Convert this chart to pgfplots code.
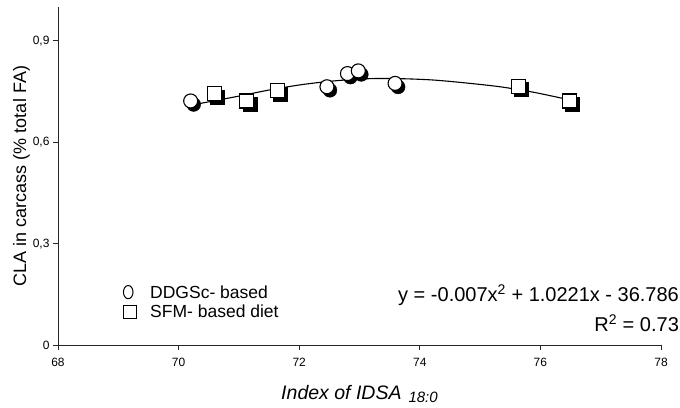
\documentclass[border=0pt]{standalone}
\usepackage{pgfplots}
\pgfplotsset{compat=1.18}
\usepackage{fontspec}
\setmainfont{Liberation Sans}

\pgfplotstableread{
x y
70.20 0.722
72.46 0.764
72.80 0.803
72.98 0.811
73.59 0.774
}\ddgs
\pgfplotstableread{
x y
70.59 0.744
71.13 0.722
71.64 0.752
75.63 0.766
76.48 0.722
}\sfm
\pgfplotstableread{
x y
70.22 0.710
70.96 0.735
71.52 0.755
72.07 0.771
72.62 0.782
73.17 0.788
73.67 0.788
74.22 0.784
74.78 0.775
75.33 0.764
75.88 0.748
76.49 0.725
}\fit

\begin{document}
\begin{tikzpicture}
\begin{axis}[
  name=ax,
  scale only axis,
  width=603pt, height=338pt,
  xmin=68, xmax=78, ymin=0, ymax=1,
  axis lines=left,
  axis line style={-, line width=0.8pt, black!85},
  xtick={68,70,72,74,76,78},
  ytick={0,0.3,0.6,0.9},
  yticklabels={0,{0,3},{0,6},{0,9}},
  tick align=outside,
  major tick length=5pt,
  tick style={line width=0.8pt, black!85},
  /pgf/number format/assume math mode=true,
  tick label style={font=\fontsize{12}{14}\selectfont},
  xticklabel style={yshift=-5pt},
  xlabel={\fontsize{19.5}{22}\selectfont\itshape Index of IDSA\hspace{7pt}\raisebox{-3pt}{\fontsize{15}{17}\selectfont 18:0}},
  xlabel style={at={(axis description cs:0.5,-0.145)}, anchor=center},
  ylabel={\fontsize{18}{20}\selectfont CLA in carcass (\% total FA)},
  ylabel style={at={(axis description cs:-0.0605,0.5)}, anchor=center, rotate=0},
  legend style={at={(axis cs:69.07,0.1276)}, anchor=west, draw=none, fill=none,
    font=\fontsize{17.5}{20}\selectfont, inner sep=0pt, row sep=5.5pt,
    nodes={inner sep=0pt, text height=12.5pt, text depth=0pt}},
  legend cell align=left,
  clip=false,
]
% shadows
\addplot[only marks, mark=*, mark size=7pt, black, mark options={xshift=3pt, yshift=-3.5pt, fill=black}, forget plot] table {\ddgs};
\addplot[only marks, mark=square*, mark size=7pt, black, mark options={xshift=3pt, yshift=-3.5pt, fill=black}, forget plot] table {\sfm};
% markers
\addplot[only marks, mark=*, mark size=7pt, black, mark options={fill=white, draw=black, line width=1.1pt},
  legend image code/.code={\draw[black, line width=1pt, fill=none] (5pt,0pt) ellipse [x radius=4.8pt, y radius=6.6pt]; \path[draw=none, fill=none] (0pt,0pt) (27pt,0pt);}] table {\ddgs};
\addlegendentry{DDGSc- based}
\addplot[only marks, mark=square*, mark size=7pt, black, mark options={fill=white, draw=black, line width=1.1pt},
  legend image code/.code={\draw[black, line width=1pt, fill=none] (0pt,-6.5pt) rectangle (13pt,6.5pt); \path[draw=none, fill=none] (0pt,0pt) (27pt,0pt);}] table {\sfm};
\addlegendentry{SFM- based diet}
% fitted curve
\addplot[black, line width=1.1pt, smooth, no marks, forget plot] table {\fit};
\node[anchor=base east, inner sep=0pt, font=\fontsize{20}{22}\selectfont] at (axis cs:78.30,0.1276) {y = -0.007x\textsuperscript{2} + 1.0221x - 36.786};
\node[anchor=base east, inner sep=0pt, font=\fontsize{20}{22}\selectfont] at (axis cs:78.30,0.0386) {R\textsuperscript{2} = 0.73};
\end{axis}
\pgfresetboundingbox
\path ([xshift=-58pt,yshift=-62pt]ax.south west) rectangle ([xshift=19pt,yshift=7pt]ax.north east);
\end{tikzpicture}
\end{document}
